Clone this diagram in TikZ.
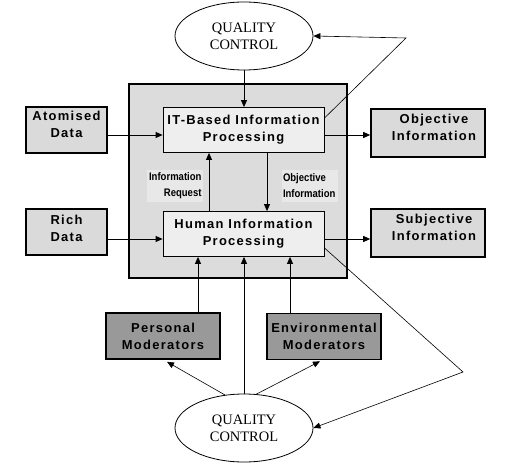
\documentclass[tikz,border=0pt]{standalone}
\usepackage{fontspec}
\setmainfont{Liberation Serif}
\newfontfamily\boxfont[LetterSpace=10]{Liberation Sans}
\newfontfamily\notefont[FakeStretch=0.87]{Liberation Sans}
\usetikzlibrary{arrows.meta,shapes.geometric}

\definecolor{framegrey}{RGB}{220,220,220}
\definecolor{procgrey}{RGB}{238,238,238}
\definecolor{datagrey}{RGB}{218,218,218}
\definecolor{modgrey}{RGB}{153,153,153}
\definecolor{notegrey}{RGB}{232,232,232}

\tikzset{every picture/.style={line width=0.75pt}}
\tikzset{
  frame/.style={draw, line width=1.6bp, fill=framegrey},
  qcellipse/.style={draw, ellipse, line width=0.8bp, fill=white, minimum width=138bp, minimum height=68bp, inner sep=0pt, align=center, font=\fontsize{14.5}{17}\selectfont},
  procbox/.style={draw, line width=0.8bp, fill=procgrey, minimum width=161bp, minimum height=45bp, inner sep=0pt, align=center, font=\boxfont\bfseries\fontsize{13}{17}\selectfont},
  databox/.style={draw, line width=1.6bp, fill=datagrey, minimum height=46bp, inner sep=0pt},
  modbox/.style={databox, fill=modgrey, minimum width=114bp},
  boxtext/.style={inner sep=0pt, align=center, font=\boxfont\bfseries\fontsize{13}{17}\selectfont},
  notebox/.style={fill=notegrey, minimum width=56bp, minimum height=32bp, inner sep=1bp, font=\notefont\bfseries\fontsize{11}{16}\selectfont},
  flow/.style={line width=0.8bp, -{Triangle[length=7bp,width=6bp]}},
  thinline/.style={line width=0.6bp}
}

\begin{document}
\begin{tikzpicture}[x=1bp,y=1bp,yscale=-1]
\useasboundingbox (0,0) rectangle (508,472);

%Shape: Rectangle [frame]
\draw [frame] (129,84) rectangle (347,278);

%Shape: Ellipse [quality control]
\node [qcellipse] (qcTop) at (244,36) {QUALITY\\CONTROL};
\node [qcellipse] (qcBot) at (244,428) {QUALITY\\CONTROL};

%Shape: Rectangle [processing]
\node [procbox] (itProc) at (243.5,130) {IT-Based Information\\Processing};
\node [procbox] (humProc) at (243.5,234) {Human Information\\Processing};

%Shape: Rectangle [inputs]
\node [databox, minimum width=81bp] (atomData) at (66.5,130) {};
\node [boxtext] (atomDataTxt) at ([yshift=-6bp]atomData.center) {Atomised\\Data};
\node [databox, minimum width=81bp] (richData) at (66.5,232) {};
\node [boxtext] (richDataTxt) at ([yshift=-4bp]richData.center) {Rich\\Data};

%Shape: Rectangle [outputs]
\node [databox, minimum width=114bp, minimum height=48bp] (objInfo) at (428,133) {};
\node [boxtext] (objInfoTxt) at ([xshift=6bp,yshift=-6bp]objInfo.center) {Objective\\Information};
\node [databox, minimum width=114bp, minimum height=48bp] (subjInfo) at (428,233) {};
\node [boxtext] (subjInfoTxt) at ([xshift=6bp,yshift=-6bp]subjInfo.center) {Subjective\\Information};

%Shape: Rectangle [moderators]
\node [modbox] (persMod) at (163,336) {};
\node [boxtext] (persModTxt) at (persMod.center) {Personal\\Moderators};
\node [modbox] (envMod) at (324,336.5) {};
\node [boxtext] (envModTxt) at (envMod.center) {Environmental\\Moderators};

% Text Node
\node [notebox, align=right, text width=54bp] (reqNote) at (174.5,186) {Information\\Request};
% Text Node
\node [notebox, align=left, text width=54bp] (objNote) at (310,186) {Objective\\Information};

%Straight Lines
\draw [flow] (qcTop.south) -- (qcTop.south |- itProc.north);
\draw [flow] ([yshift=5bp]atomData.east) -- ([yshift=5bp]atomData.east -| itProc.west);
\draw [flow] ([yshift=5bp]itProc.east) -- ([yshift=5bp]itProc.east -| objInfo.west);
\draw [flow] ([xshift=-34.5bp]humProc.north) -- ([xshift=-34.5bp]itProc.south);
\draw [flow] ([xshift=23.5bp]itProc.south) -- ([xshift=23.5bp]humProc.north);
\draw [flow] ([yshift=7bp]richData.east) -- ([yshift=7bp]richData.east -| humProc.west);
\draw [flow] ([yshift=5bp]humProc.east) -- ([yshift=5bp]humProc.east -| subjInfo.west);
\draw [flow] ([xshift=35bp]persMod.north) -- ([xshift=35bp]persMod.north |- humProc.south);
\draw [flow] ([xshift=-34bp]envMod.north) -- ([xshift=-34bp]envMod.north |- humProc.south);
\draw [flow] (qcBot.north) -- (qcBot.north |- humProc.south);
\draw [flow, thinline] (qcBot.120) -- ([xshift=4bp,yshift=2bp]persMod.south);
\draw [flow, thinline] (qcBot.70) -- ([xshift=-4bp,yshift=1bp]envMod.south);

%Straight Lines [feedback]
\coordinate (turnTop) at (406,38);
\coordinate (turnBot) at (463,372);
\draw [flow, thinline] ([yshift=11bp]itProc.north east) -- (turnTop) -- (qcTop.east);
\draw [flow, thinline] ([yshift=-9bp]humProc.south east) -- (turnBot) -- (qcBot.east);
\end{tikzpicture}
\end{document}
